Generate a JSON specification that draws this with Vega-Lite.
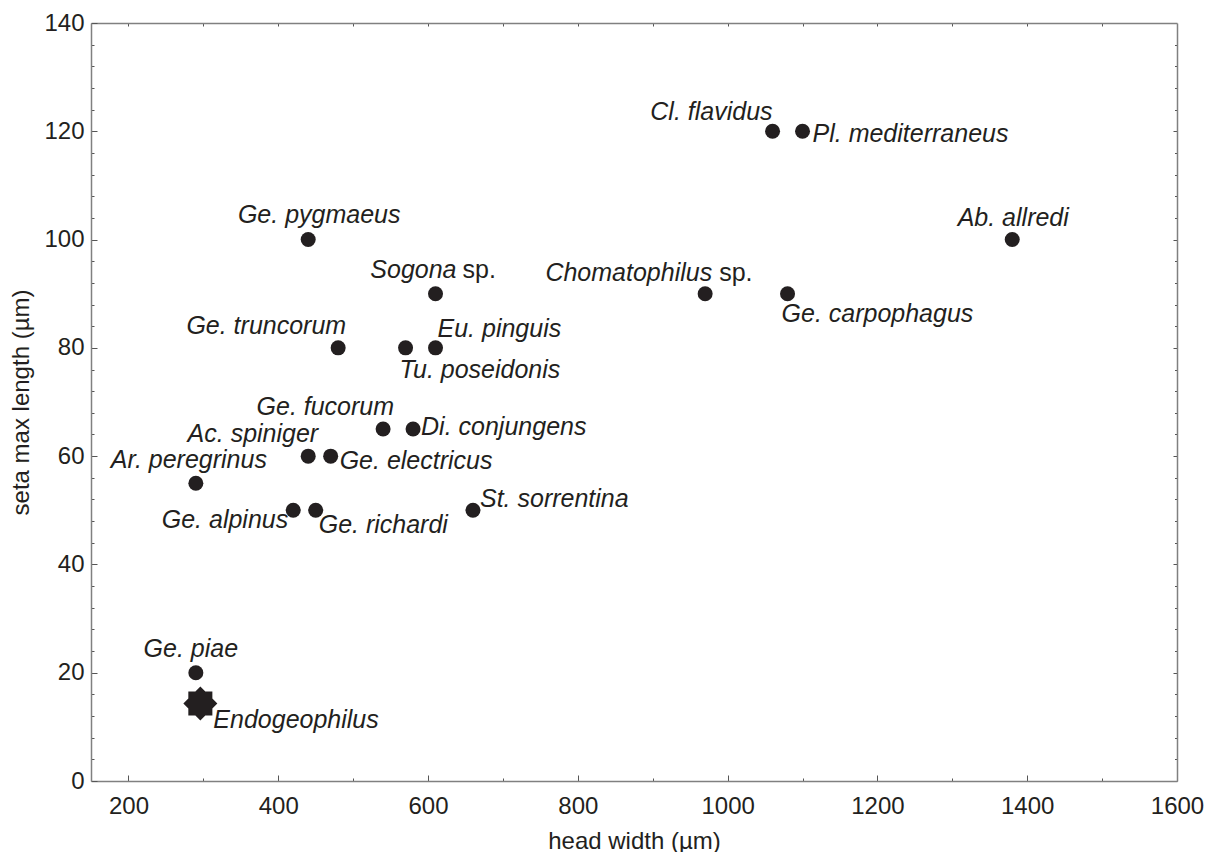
{
  "$schema": "https://vega.github.io/schema/vega-lite/v6.json",
  "width": 1086,
  "height": 758,
  "autosize": "none",
  "padding": {"left": 91, "top": 23, "right": 38, "bottom": 71},
  "background": "white",
  "data": {
    "values": [
      {"species": "Cl. flavidus", "label": "Cl. flavidus", "suffix": null, "hw": 1060, "sl": 120},
      {"species": "Pl. mediterraneus", "label": "Pl. mediterraneus", "suffix": null, "hw": 1100, "sl": 120},
      {"species": "Ge. pygmaeus", "label": "Ge. pygmaeus", "suffix": null, "hw": 440, "sl": 100},
      {"species": "Ab. allredi", "label": "Ab. allredi", "suffix": null, "hw": 1380, "sl": 100},
      {"species": "Sogona sp.", "label": "Sogona", "suffix": "sp.", "hw": 610, "sl": 90},
      {"species": "Chomatophilus sp.", "label": "Chomatophilus", "suffix": "sp.", "hw": 970, "sl": 90},
      {"species": "Ge. carpophagus", "label": "Ge. carpophagus", "suffix": null, "hw": 1080, "sl": 90},
      {"species": "Ge. truncorum", "label": "Ge. truncorum", "suffix": null, "hw": 480, "sl": 80},
      {"species": "Tu. poseidonis", "label": "Tu. poseidonis", "suffix": null, "hw": 570, "sl": 80},
      {"species": "Eu. pinguis", "label": "Eu. pinguis", "suffix": null, "hw": 610, "sl": 80},
      {"species": "Ge. fucorum", "label": "Ge. fucorum", "suffix": null, "hw": 540, "sl": 65},
      {"species": "Di. conjungens", "label": "Di. conjungens", "suffix": null, "hw": 580, "sl": 65},
      {"species": "Ac. spiniger", "label": "Ac. spiniger", "suffix": null, "hw": 440, "sl": 60},
      {"species": "Ge. electricus", "label": "Ge. electricus", "suffix": null, "hw": 470, "sl": 60},
      {"species": "Ar. peregrinus", "label": "Ar. peregrinus", "suffix": null, "hw": 290, "sl": 55},
      {"species": "Ge. alpinus", "label": "Ge. alpinus", "suffix": null, "hw": 420, "sl": 50},
      {"species": "Ge. richardi", "label": "Ge. richardi", "suffix": null, "hw": 450, "sl": 50},
      {"species": "St. sorrentina", "label": "St. sorrentina", "suffix": null, "hw": 660, "sl": 50},
      {"species": "Ge. piae", "label": "Ge. piae", "suffix": null, "hw": 290, "sl": 20},
      {"species": "Endogeophilus", "label": "Endogeophilus", "suffix": null, "hw": 296, "sl": 14.3}
    ]
  },
  "encoding": {
    "x": {"field": "hw", "type": "quantitative", "scale": {"domain": [150, 1600], "nice": false, "zero": false}, "axis": null},
    "y": {"field": "sl", "type": "quantitative", "scale": {"domain": [0, 140], "nice": false, "zero": false}, "axis": null},
    "text": {"field": "label"}
  },
  "layer": [
    {
      "transform": [{"filter": "datum.species !== 'Endogeophilus'"}],
      "mark": {"type": "point", "shape": "circle", "filled": true, "size": 225, "color": "#231f20", "opacity": 1},
      "encoding": {
        "x": {"field": "hw", "type": "quantitative", "scale": {"domain": [150, 1600], "nice": false, "zero": false},
          "axis": {"orient": "bottom", "title": "head width (µm)", "titlePadding": 8, "format": "d",
            "values": [200, 300, 400, 500, 600, 700, 800, 900, 1000, 1100, 1200, 1300, 1400, 1500, 1600],
            "labelExpr": "datum.value % 200 === 0 ? datum.label : ''",
            "tickSize": {"condition": {"test": "datum.value % 200 === 0", "value": -6}, "value": -3},
            "labelPadding": 19, "labelOverlap": false, "labelFlush": false}},
        "y": {"field": "sl", "type": "quantitative", "scale": {"domain": [0, 140], "nice": false, "zero": false},
          "axis": {"orient": "left", "title": "seta max length (µm)", "titlePadding": 10, "format": "d",
            "values": [0, 4, 8, 12, 16, 20, 24, 28, 32, 36, 40, 44, 48, 52, 56, 60, 64, 68, 72, 76, 80, 84, 88, 92, 96, 100, 104, 108, 112, 116, 120, 124, 128, 132, 136, 140],
            "labelExpr": "datum.value % 20 === 0 ? datum.label : ''",
            "tickSize": {"condition": {"test": "datum.value % 20 === 0", "value": -6}, "value": -3},
            "labelPadding": 13, "labelOverlap": false, "labelFlush": false}}
      }
    },
    {
      "transform": [{"filter": "datum.species === 'Endogeophilus'"}],
      "mark": {"type": "point", "shape": "M1,0L0.707,0.293L0.707,0.707L0.293,0.707L0,1L-0.293,0.707L-0.707,0.707L-0.707,0.293L-1,0L-0.707,-0.293L-0.707,-0.707L-0.293,-0.707L0,-1L0.293,-0.707L0.707,-0.707L0.707,-0.293Z", "filled": true, "size": 1156, "color": "#231f20", "opacity": 1},
      "encoding": {
        "x": {"field": "hw", "type": "quantitative", "scale": {"domain": [150, 1600], "nice": false, "zero": false},
          "axis": {"orient": "top", "title": null, "labels": false,
            "values": [200, 300, 400, 500, 600, 700, 800, 900, 1000, 1100, 1200, 1300, 1400, 1500],
            "tickSize": -3}},
        "y": {"field": "sl", "type": "quantitative", "scale": {"domain": [0, 140], "nice": false, "zero": false},
          "axis": {"orient": "right", "title": null, "labels": false,
            "values": [4, 8, 12, 16, 20, 24, 28, 32, 36, 40, 44, 48, 52, 56, 60, 64, 68, 72, 76, 80, 84, 88, 92, 96, 100, 104, 108, 112, 116, 120, 124, 128, 132, 136],
            "tickSize": {"condition": {"test": "datum.value % 20 === 0", "value": -4}, "value": -2.5}}}
      }
    },
    {"transform": [{"filter": "datum.species === 'Cl. flavidus'"}], "mark": {"type": "text", "align": "right", "dx": 0, "dy": -11}},
    {"transform": [{"filter": "datum.species === 'Pl. mediterraneus'"}], "mark": {"type": "text", "align": "left", "dx": 10, "dy": 11}},
    {"transform": [{"filter": "datum.species === 'Ab. allredi'"}], "mark": {"type": "text", "align": "center", "dx": 1, "dy": -14}},
    {"transform": [{"filter": "datum.species === 'Ge. carpophagus'"}], "mark": {"type": "text", "align": "left", "dx": -6, "dy": 28}},
    {"transform": [{"filter": "datum.species === 'Chomatophilus sp.'"}], "mark": {"type": "text", "align": "right", "dx": 7, "dy": -13}},
    {"transform": [{"filter": "datum.species === 'Chomatophilus sp.'"}], "mark": {"type": "text", "align": "left", "dx": 14, "dy": -13, "fontStyle": "normal"}, "encoding": {"text": {"field": "suffix"}}},
    {"transform": [{"filter": "datum.species === 'Sogona sp.'"}], "mark": {"type": "text", "align": "right", "dx": 21, "dy": -16}},
    {"transform": [{"filter": "datum.species === 'Sogona sp.'"}], "mark": {"type": "text", "align": "left", "dx": 27, "dy": -16, "fontStyle": "normal"}, "encoding": {"text": {"field": "suffix"}}},
    {"transform": [{"filter": "datum.species === 'Ge. pygmaeus'"}], "mark": {"type": "text", "align": "center", "dx": 11, "dy": -17}},
    {"transform": [{"filter": "datum.species === 'Ge. truncorum'"}], "mark": {"type": "text", "align": "right", "dx": 8, "dy": -14}},
    {"transform": [{"filter": "datum.species === 'Eu. pinguis'"}], "mark": {"type": "text", "align": "left", "dx": 2, "dy": -11}},
    {"transform": [{"filter": "datum.species === 'Tu. poseidonis'"}], "mark": {"type": "text", "align": "left", "dx": -6, "dy": 30}},
    {"transform": [{"filter": "datum.species === 'Ge. fucorum'"}], "mark": {"type": "text", "align": "right", "dx": 11, "dy": -14}},
    {"transform": [{"filter": "datum.species === 'Di. conjungens'"}], "mark": {"type": "text", "align": "left", "dx": 8, "dy": 6}},
    {"transform": [{"filter": "datum.species === 'Ac. spiniger'"}], "mark": {"type": "text", "align": "right", "dx": 10, "dy": -14}},
    {"transform": [{"filter": "datum.species === 'Ge. electricus'"}], "mark": {"type": "text", "align": "left", "dx": 9, "dy": 13}},
    {"transform": [{"filter": "datum.species === 'Ar. peregrinus'"}], "mark": {"type": "text", "align": "center", "dx": -7, "dy": -15}},
    {"transform": [{"filter": "datum.species === 'Ge. alpinus'"}], "mark": {"type": "text", "align": "right", "dx": -5, "dy": 18}},
    {"transform": [{"filter": "datum.species === 'Ge. richardi'"}], "mark": {"type": "text", "align": "left", "dx": 3, "dy": 23}},
    {"transform": [{"filter": "datum.species === 'St. sorrentina'"}], "mark": {"type": "text", "align": "left", "dx": 7, "dy": -3}},
    {"transform": [{"filter": "datum.species === 'Ge. piae'"}], "mark": {"type": "text", "align": "center", "dx": -5, "dy": -16}},
    {"transform": [{"filter": "datum.species === 'Endogeophilus'"}], "mark": {"type": "text", "align": "left", "dx": 13, "dy": 24}}
  ],
  "resolve": {"axis": {"x": "independent", "y": "independent"}},
  "config": {
    "view": {"stroke": null},
    "text": {"font": "Liberation Sans", "fontSize": 25, "fontStyle": "italic", "color": "#231f20", "baseline": "alphabetic"},
    "axis": {
      "grid": false,
      "labelFont": "Liberation Sans", "labelFontSize": 24, "labelColor": "#231f20",
      "titleFont": "Liberation Sans", "titleFontSize": 24, "titleFontWeight": "normal", "titleColor": "#231f20",
      "domainColor": "#808080", "domainWidth": 1.5, "tickColor": "#555555", "tickWidth": 1
    }
  }
}
